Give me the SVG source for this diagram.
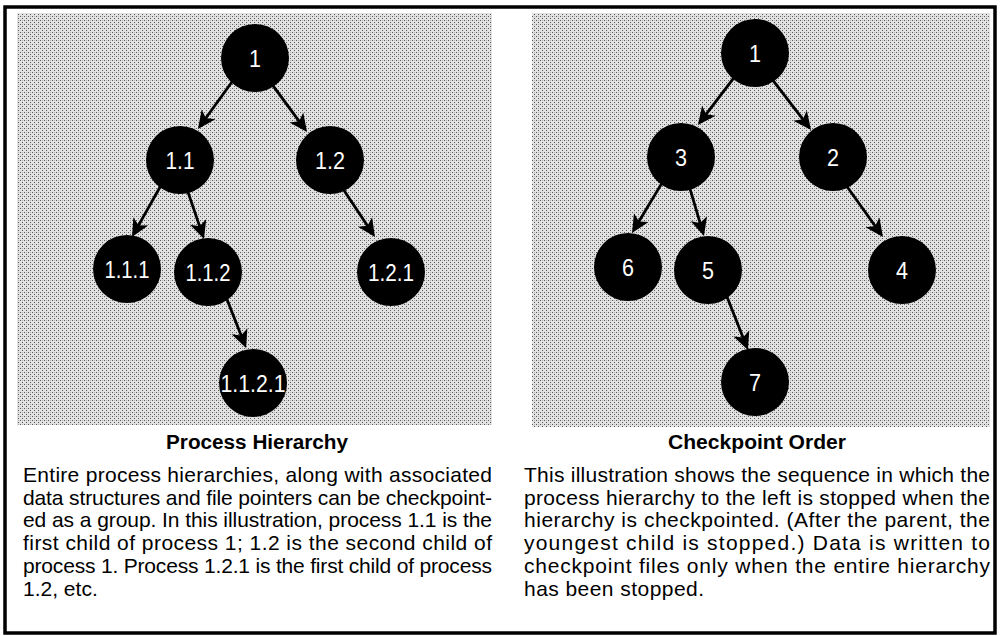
<svg xmlns="http://www.w3.org/2000/svg" width="1002" height="636" viewBox="0 0 1002 636">
<defs>
<pattern id="dots" width="4" height="4" patternUnits="userSpaceOnUse">
<rect width="4" height="4" fill="#e2e2e2"/>
<rect x="0" y="0" width="1" height="1" fill="#5a5a5a"/>
<rect x="2" y="2" width="1" height="1" fill="#5a5a5a"/>
<rect x="2" y="0" width="1" height="1" fill="#b4b4b4"/>
</pattern>
<marker id="ah" markerUnits="userSpaceOnUse" viewBox="-12 -9 20 18" refX="0" refY="0" markerWidth="20" markerHeight="18" orient="auto">
<path d="M7,0 L-11,-8.5 L-6.5,0 L-11,8.5 Z" fill="#000"/>
</marker>
</defs>
<style>
.node circle{fill:#000}
.node text{fill:#fff;font-family:"Liberation Sans",Arial,sans-serif;font-size:24px;text-anchor:middle}
.conn line{stroke:#000;stroke-width:2.8;marker-end:url(#ah)}
.cap{font-family:"Liberation Sans",Arial,sans-serif;font-weight:bold;font-size:20px;text-anchor:middle;fill:#000}
.para{font-family:"Liberation Sans",Arial,sans-serif;font-size:21px;fill:#000}
</style>
<rect x="0" y="0" width="1002" height="636" fill="#fff"/>
<rect x="17" y="13" width="475" height="412" fill="url(#dots)"/>
<rect x="532" y="13" width="458" height="414" fill="url(#dots)"/>
<rect x="5" y="7" width="990" height="626" fill="none" stroke="#000" stroke-width="3.5"/>

<g class="conn" id="connectors">
<line x1="233.7" y1="79.5" x2="202.1" y2="123.3"/>
<line x1="269.3" y1="80.6" x2="302.9" y2="126.4"/>
<line x1="162.9" y1="182" x2="135.4" y2="230.9"/>
<line x1="186.4" y1="187.4" x2="201.7" y2="232.4"/>
<line x1="340.6" y1="185.3" x2="371.1" y2="231.2"/>
<line x1="225.1" y1="294.6" x2="243.5" y2="341.5"/>
<line x1="734.8" y1="76.6" x2="702.2" y2="119.4"/>
<line x1="770.1" y1="76.6" x2="806.8" y2="124.4"/>
<line x1="663.1" y1="181.1" x2="635.6" y2="227"/>
<line x1="688.7" y1="184.3" x2="702" y2="229.3"/>
<line x1="843.4" y1="181.5" x2="878.9" y2="231.3"/>
<line x1="726.1" y1="294.6" x2="745.4" y2="343.5"/>
</g>

<g class="node" id="p1"><circle cx="255" cy="58" r="34"/><text x="255" y="67" textLength="12" lengthAdjust="spacingAndGlyphs">1</text></g>
<g class="node" id="p11"><circle cx="180" cy="160" r="34"/><text x="180" y="169" textLength="29" lengthAdjust="spacingAndGlyphs">1.1</text></g>
<g class="node" id="p12"><circle cx="330" cy="160" r="34"/><text x="330" y="169" textLength="30" lengthAdjust="spacingAndGlyphs">1.2</text></g>
<g class="node" id="p111"><circle cx="127" cy="269" r="34"/><text x="127" y="278" textLength="45" lengthAdjust="spacingAndGlyphs">1.1.1</text></g>
<g class="node" id="p112"><circle cx="208" cy="272" r="34"/><text x="208" y="281" textLength="45" lengthAdjust="spacingAndGlyphs">1.1.2</text></g>
<g class="node" id="p121"><circle cx="391" cy="272" r="34"/><text x="391" y="281" textLength="46" lengthAdjust="spacingAndGlyphs">1.2.1</text></g>
<g class="node" id="p1121"><circle cx="253" cy="383" r="34"/><text x="253" y="392" textLength="65" lengthAdjust="spacingAndGlyphs">1.1.2.1</text></g>

<g class="node" id="c1"><circle cx="755" cy="53" r="34"/><text x="755" y="62" textLength="12" lengthAdjust="spacingAndGlyphs">1</text></g>
<g class="node" id="c3"><circle cx="681" cy="157" r="34"/><text x="681" y="166" textLength="12" lengthAdjust="spacingAndGlyphs">3</text></g>
<g class="node" id="c2"><circle cx="833" cy="157" r="34"/><text x="833" y="166" textLength="12" lengthAdjust="spacingAndGlyphs">2</text></g>
<g class="node" id="c6"><circle cx="628" cy="267" r="34"/><text x="628" y="276" textLength="12" lengthAdjust="spacingAndGlyphs">6</text></g>
<g class="node" id="c5"><circle cx="708" cy="270" r="34"/><text x="708" y="279" textLength="12" lengthAdjust="spacingAndGlyphs">5</text></g>
<g class="node" id="c4"><circle cx="902" cy="270" r="34"/><text x="902" y="279" textLength="12" lengthAdjust="spacingAndGlyphs">4</text></g>
<g class="node" id="c7"><circle cx="755" cy="382" r="34"/><text x="755" y="391" textLength="12" lengthAdjust="spacingAndGlyphs">7</text></g>

<text class="cap" x="257" y="449" textLength="182" lengthAdjust="spacingAndGlyphs">Process Hierarchy</text>
<text class="cap" x="757" y="449" textLength="178" lengthAdjust="spacingAndGlyphs">Checkpoint Order</text>

<g class="para">
<text x="23" y="482" textLength="469" lengthAdjust="spacing">Entire process hierarchies, along with associated</text>
<text x="23" y="504.7" textLength="469" lengthAdjust="spacing">data structures and file pointers can be checkpoint-</text>
<text x="23" y="527.4" textLength="469" lengthAdjust="spacing">ed as a group. In this illustration, process 1.1 is the</text>
<text x="23" y="550.1" textLength="469" lengthAdjust="spacing">first child of process 1; 1.2 is the second child of</text>
<text x="23" y="572.8" textLength="469" lengthAdjust="spacing">process 1. Process 1.2.1 is the first child of process</text>
<text x="23" y="595.5">1.2, etc.</text>
<text x="524" y="482" textLength="466" lengthAdjust="spacing">This illustration shows the sequence in which the</text>
<text x="524" y="504.7" textLength="466" lengthAdjust="spacing">process hierarchy to the left is stopped when the</text>
<text x="524" y="527.4" textLength="466" lengthAdjust="spacing">hierarchy is checkpointed. (After the parent, the</text>
<text x="524" y="550.1" textLength="466" lengthAdjust="spacing">youngest child is stopped.) Data is written to</text>
<text x="524" y="572.8" textLength="466" lengthAdjust="spacing">checkpoint files only when the entire hierarchy</text>
<text x="524" y="595.5" textLength="180" lengthAdjust="spacing">has been stopped.</text>
</g>
</svg>
